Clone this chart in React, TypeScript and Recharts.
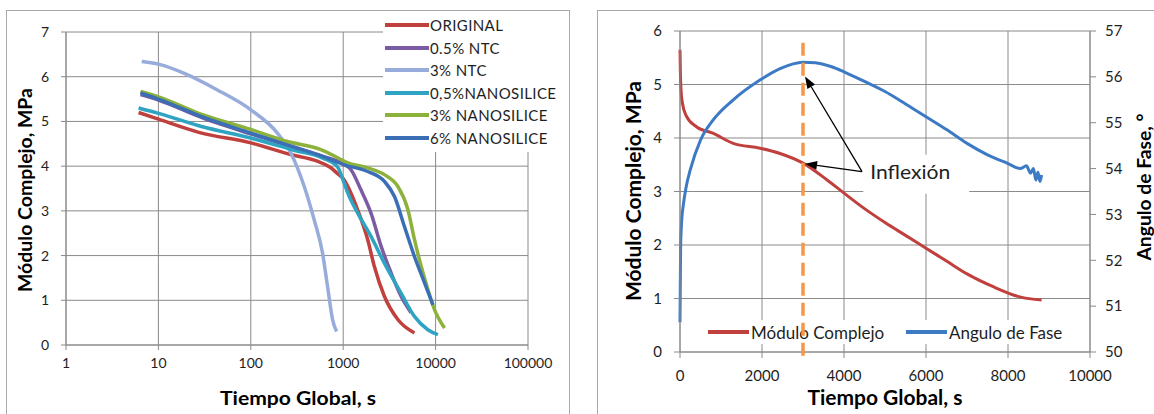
import React from "react";
import {
  LineChart,
  Line,
  XAxis,
  YAxis,
  CartesianGrid,
  Legend,
  ReferenceLine,
  ReferenceDot,
} from "recharts";

const FONT = "Lato, 'Open Sans', 'DejaVu Sans', sans-serif";
const GRID = "#8a8a8a";
const INK = "#1e1e1e";

// ---------- Left panel: complex modulus vs global time (log axis) ----------
const TIME_TICKS_LOG = [1, 10, 100, 1000, 10000, 100000];
const MODULUS_TICKS_LEFT = [0, 1, 2, 3, 4, 5, 6, 7];

const original = [
  [6.1, 5.2], [10, 5.05], [28, 4.75], [100, 4.52], [270, 4.26], [525, 4.11],
  [730, 3.97], [850, 3.85], [1000, 3.72], [1430, 3.03], [1840, 2.36],
  [2170, 1.76], [2790, 1.09], [3900, 0.57], [5900, 0.27],
];
const ntc05 = [
  [6.4, 5.6], [10, 5.48], [30, 5.08], [100, 4.72], [300, 4.42], [600, 4.22],
  [1000, 4.05], [1213, 3.92], [1556, 3.47], [2000, 2.95], [2570, 2.21],
  [3300, 1.61], [4230, 1.09], [5430, 0.72],
];
const ntc3 = [
  [6.6, 6.34], [10.5, 6.27], [18.8, 6.08], [43, 5.71], [100, 5.26], [194, 4.74],
  [270, 4.3], [378, 3.55], [485, 2.8], [597, 2.06], [677, 1.31], [767, 0.57],
  [848, 0.3],
];
const nano05 = [
  [6.1, 5.3], [10, 5.18], [30, 4.88], [100, 4.63], [300, 4.35], [600, 4.18],
  [870, 3.98], [1025, 3.62], [1120, 3.4], [1435, 2.95], [2000, 2.43],
  [2790, 1.83], [4230, 1.16], [5900, 0.64], [8250, 0.34], [10590, 0.23],
];
const nano3 = [
  [6.4, 5.67], [10, 5.55], [30, 5.15], [100, 4.82], [250, 4.55], [572, 4.37],
  [944, 4.15], [1025, 4.11], [1840, 3.96], [2790, 3.81], [3890, 3.55],
  [5010, 3.03], [5900, 2.36], [6980, 1.76], [8250, 1.24], [9730, 0.79],
  [12500, 0.38],
];
const nano6 = [
  [6.4, 5.64], [10, 5.5], [30, 5.1], [100, 4.74], [300, 4.42], [600, 4.22],
  [1025, 4.03], [1840, 3.88], [2790, 3.66], [3590, 3.32], [4600, 2.65],
  [5900, 1.98], [7590, 1.39], [9340, 0.9],
];

const toPoints = (rows: number[][]) => rows.map(([x, y]) => ({ x, y }));

const SERIES_LEFT = [
  { name: "ORIGINAL", color: "#C0403E", data: toPoints(original) },
  { name: "0.5% NTC", color: "#7B5BA3", data: toPoints(ntc05) },
  { name: "3% NTC", color: "#98ACDB", data: toPoints(ntc3) },
  { name: "0,5%NANOSILICE", color: "#2EA3C2", data: toPoints(nano05) },
  { name: "3% NANOSILICE", color: "#8CB23C", data: toPoints(nano3) },
  { name: "6% NANOSILICE", color: "#3A6FB5", data: toPoints(nano6) },
];

// ---------- Right panel: modulus and phase angle vs global time ----------
const TIME_TICKS_LIN = [0, 2000, 4000, 6000, 8000, 10000];
const MODULUS_TICKS_RIGHT = [0, 1, 2, 3, 4, 5, 6];
const PHASE_TICKS = [50, 51, 52, 53, 54, 55, 56, 57];

const moduloComplejo = [
  [0, 5.65], [10, 5.2], [25, 4.9], [60, 4.65], [150, 4.42], [400, 4.21],
  [800, 4.09], [1300, 3.9], [1950, 3.81], [2440, 3.71], [3000, 3.53],
  [3580, 3.22], [4000, 2.97], [4500, 2.68], [5000, 2.42], [5500, 2.18],
  [6000, 1.94], [6500, 1.7], [7000, 1.46], [7640, 1.22], [8290, 1.03],
  [8820, 0.97],
];
const anguloFase = [
  [0, 50.65], [15, 52.3], [40, 52.85], [80, 53.2], [150, 53.6], [250, 53.97],
  [500, 54.62], [800, 55.05], [1300, 55.5], [1950, 55.93], [2440, 56.18],
  [3000, 56.32], [3300, 56.31], [3700, 56.22], [4000, 56.11], [4500, 55.9],
  [5000, 55.68], [5500, 55.41], [6000, 55.13], [6500, 54.85], [7000, 54.55],
  [7500, 54.3], [8000, 54.11], [8300, 54.0], [8450, 54.06], [8550, 53.9],
  [8620, 54.0], [8680, 53.75], [8730, 53.92], [8780, 53.72], [8820, 53.86],
];

const SERIES_RIGHT = [
  { name: "Módulo Complejo", color: "#C0403E", axis: "mod", data: toPoints(moduloComplejo) },
  { name: "Angulo de Fase", color: "#3C7BC4", axis: "fase", data: toPoints(anguloFase) },
];

// Inflection annotation (data coordinates on the modulus axis)
const INFLEXION_TIME = 3000;
const ARROW_FROM = { x: 4440, y: 3.37 };
const ARROW_TIPS = [
  { x: 3050, y: 5.15 },
  { x: 3050, y: 3.52 },
];
const INFLEXION_LABEL = { x: 4640, y: 3.37, text: "Inflexión" };

// ---------- helpers ----------
const tickStyle = (size: number) => ({ fill: INK, fontSize: size, fontFamily: FONT });

const verticalTitle = (text: string, x: number, y: number, size: number, length: number) => (
  <text
    x={x}
    y={y}
    transform={`rotate(-90 ${x} ${y})`}
    textAnchor="middle"
    dominantBaseline="central"
    fontFamily={FONT}
    fontWeight={700}
    fontSize={size}
    fill="#000"
    textLength={length}
    lengthAdjust="spacingAndGlyphs"
  >
    {text}
  </text>
);

const horizontalTitle = (text: string, x: number, y: number, size: number, length: number) => (
  <text
    x={x}
    y={y}
    textAnchor="middle"
    fontFamily={FONT}
    fontWeight={700}
    fontSize={size}
    fill="#000"
    textLength={length}
    lengthAdjust="spacingAndGlyphs"
  >
    {text}
  </text>
);

const arrowShape = (props: any) => {
  const { x1, y1, x2, y2 } = props;
  const ang = Math.atan2(y2 - y1, x2 - x1);
  const len = 12;
  const half = 4.5;
  const bx = x2 - len * Math.cos(ang);
  const by = y2 - len * Math.sin(ang);
  const px = -Math.sin(ang) * half;
  const py = Math.cos(ang) * half;
  return (
    <g>
      <line x1={x1} y1={y1} x2={bx} y2={by} stroke="#000" strokeWidth={1.3} />
      <polygon points={`${x2},${y2} ${bx + px},${by + py} ${bx - px},${by - py}`} fill="#000" />
    </g>
  );
};

const labelShape = (props: any) => {
  const { cx, cy } = props;
  return (
    <g>
      <rect x={cx - 7} y={cy - 17} width={106} height={39} fill="#fff" />
      <text
        x={cx}
        y={cy}
        dominantBaseline="central"
        fontFamily={FONT}
        fontSize={19}
        fill={INK}
        textLength={80}
        lengthAdjust="spacingAndGlyphs"
      >
        {INFLEXION_LABEL.text}
      </text>
    </g>
  );
};

const LeftLegend = () => (
  <div style={{ background: "#fff", width: "100%", height: "100%", paddingTop: 2, boxSizing: "border-box" }}>
    {SERIES_LEFT.map((s) => (
      <div key={s.name} style={{ display: "flex", alignItems: "center", height: 22.5 }}>
        <div style={{ width: 44, height: 4, background: s.color, marginLeft: 2, flex: "none" }} />
        <span
          style={{
            fontSize: 15,
            letterSpacing: 0.4,
            color: INK,
            marginLeft: 1,
            fontFamily: FONT,
            whiteSpace: "nowrap",
          }}
        >
          {s.name}
        </span>
      </div>
    ))}
  </div>
);

const RightLegend = () => (
  <div style={{ background: "#fff", width: "100%", height: "100%", position: "relative" }}>
    {SERIES_RIGHT.map((s, i) => (
      <div
        key={s.name}
        style={{
          position: "absolute",
          left: i === 0 ? 8 : 206,
          top: 0,
          height: "100%",
          display: "flex",
          alignItems: "center",
        }}
      >
        <div style={{ width: 41, height: 4, background: s.color, flex: "none" }} />
        <span style={{ fontSize: 17, color: INK, marginLeft: 2, fontFamily: FONT, whiteSpace: "nowrap" }}>
          {s.name}
        </span>
      </div>
    ))}
  </div>
);

// plot areas: left x 66..528, y 32..345 ; right x 680..1090, y 31..352
const LEFT_MARGIN = { top: 32, right: 52, bottom: 39, left: 6 };
const RIGHT_MARGIN = { top: 31, right: 4, bottom: 32, left: 40 };
const RIGHT_OVERLAY_MARGIN = { top: 31, right: 64, bottom: 62, left: 100 };

export default function App() {
  return (
    <div
      style={{
        position: "absolute",
        left: 0,
        top: 0,
        width: 1154,
        height: 414,
        background: "#fff",
        overflow: "hidden",
        fontFamily: FONT,
      }}
    >
      {/* panel frames */}
      <div style={{ position: "absolute", left: 6, top: 10, width: 562, height: 430, border: "1px solid #a8a8a8" }} />
      <div style={{ position: "absolute", left: 597, top: 10, width: 600, height: 430, border: "1px solid #a8a8a8" }} />

      {/* left panel */}
      <div style={{ position: "absolute", left: 0, top: 0 }}>
        <LineChart width={580} height={414} margin={LEFT_MARGIN}>
          <CartesianGrid stroke={GRID} strokeWidth={1} />
          <XAxis
            type="number"
            dataKey="x"
            scale="log"
            domain={[1, 100000]}
            ticks={TIME_TICKS_LOG}
            interval={0}
            allowDataOverflow
            height={30}
            stroke={GRID}
            tickSize={5}
            tickMargin={8}
            tick={tickStyle(14)}
            tickFormatter={(v: number) => String(v)}
          />
          <YAxis
            type="number"
            domain={[0, 7]}
            ticks={MODULUS_TICKS_LEFT}
            interval={0}
            width={60}
            stroke={GRID}
            tickSize={5}
            tickMargin={12}
            tick={tickStyle(14)}
          />
          {SERIES_LEFT.map((s) => (
            <Line
              key={s.name}
              name={s.name}
              data={s.data}
              dataKey="y"
              type="monotone"
              stroke={s.color}
              strokeWidth={3.5}
              dot={false}
              activeDot={false}
              isAnimationActive={false}
            />
          ))}
          <Legend
            layout="vertical"
            align="center"
            verticalAlign="middle"
            wrapperStyle={{ left: 383, top: 12, width: 184, height: 140, margin: 0, padding: 0 }}
            content={() => <LeftLegend />}
          />
        </LineChart>
      </div>

      {/* right panel */}
      <div style={{ position: "absolute", left: 580, top: 0 }}>
        <LineChart width={574} height={414} margin={RIGHT_MARGIN}>
          <CartesianGrid stroke={GRID} strokeWidth={1} yAxisId="mod" />
          <XAxis
            type="number"
            dataKey="x"
            domain={[0, 10000]}
            ticks={TIME_TICKS_LIN}
            interval={0}
            height={30}
            stroke={GRID}
            tickSize={6}
            tickMargin={12}
            tick={tickStyle(15)}
          />
          <YAxis
            yAxisId="mod"
            type="number"
            domain={[0, 6]}
            ticks={MODULUS_TICKS_RIGHT}
            interval={0}
            width={60}
            stroke={GRID}
            tickSize={6}
            tickMargin={12}
            tick={tickStyle(15)}
          />
          <YAxis
            yAxisId="fase"
            orientation="right"
            type="number"
            domain={[50, 57]}
            ticks={PHASE_TICKS}
            interval={0}
            width={60}
            stroke={GRID}
            tickSize={6}
            tickMargin={9}
            tick={tickStyle(15)}
          />
          {SERIES_RIGHT.map((s) => (
            <Line
              key={s.name}
              name={s.name}
              yAxisId={s.axis}
              data={s.data}
              dataKey="y"
              type="monotone"
              stroke={s.color}
              strokeWidth={3}
              dot={false}
              activeDot={false}
              isAnimationActive={false}
            />
          ))}
          <Legend
            layout="horizontal"
            align="center"
            verticalAlign="middle"
            wrapperStyle={{ left: 120, top: 320, width: 372, height: 24, margin: 0, padding: 0 }}
            content={() => <RightLegend />}
          />
        </LineChart>
      </div>

      {/* right panel annotation layer: inflection marker and arrows */}
      <div style={{ position: "absolute", left: 580, top: 0, pointerEvents: "none" }}>
        <LineChart width={574} height={414} margin={RIGHT_OVERLAY_MARGIN} data={SERIES_RIGHT[0].data}>
          <XAxis type="number" dataKey="x" domain={[0, 10000]} hide />
          <YAxis type="number" domain={[0, 6]} hide />
          <Line dataKey="y" stroke="none" dot={false} activeDot={false} isAnimationActive={false} />
          <ReferenceLine
            segment={[
              { x: INFLEXION_TIME, y: 5.78 },
              { x: INFLEXION_TIME, y: -0.12 },
            ]}
            stroke="#F79646"
            strokeWidth={3.5}
            strokeDasharray="13 7"
            ifOverflow="visible"
          />
          <ReferenceDot
            x={INFLEXION_LABEL.x}
            y={INFLEXION_LABEL.y}
            ifOverflow="visible"
            shape={labelShape}
          />
          {ARROW_TIPS.map((tip, i) => (
            <ReferenceLine
              key={i}
              segment={[ARROW_FROM, tip]}
              ifOverflow="visible"
              shape={arrowShape}
            />
          ))}
        </LineChart>
      </div>

      {/* axis titles */}
      <svg width={1154} height={414} style={{ position: "absolute", left: 0, top: 0, pointerEvents: "none" }}>
        {verticalTitle("Módulo Complejo, MPa", 24, 190, 19, 204)}
        {horizontalTitle("Tiempo Global, s", 298, 405, 19, 156)}
        {verticalTitle("Módulo Complejo, MPa", 633, 191, 20, 220)}
        {horizontalTitle("Tiempo Global, s", 885, 405, 20, 155)}
        {verticalTitle("Angulo de Fase, °", 1143, 187, 19, 147)}
      </svg>
    </div>
  );
}
